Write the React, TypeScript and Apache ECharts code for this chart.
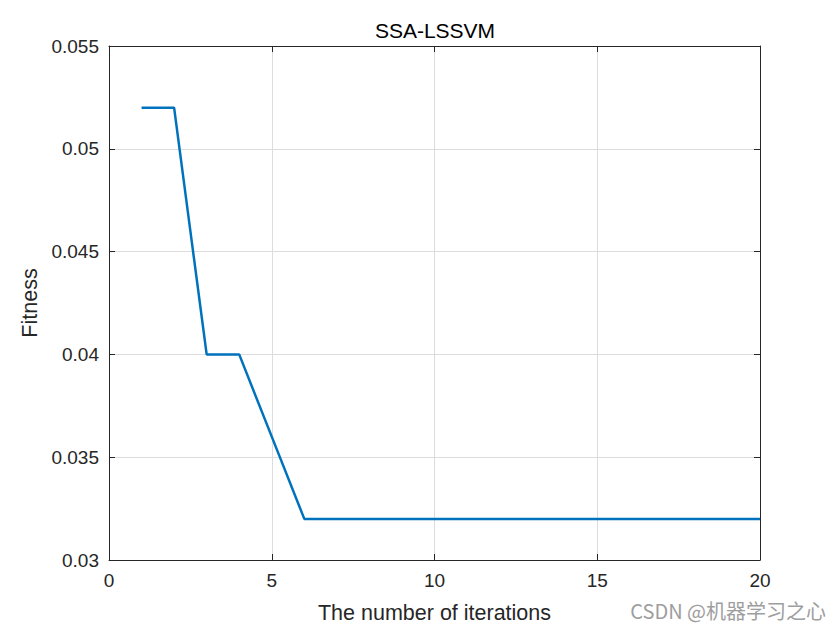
import React, { useEffect, useRef } from "react";
import * as echarts from "echarts";

const iterations = [1, 2, 3, 4, 5, 6, 7, 8, 9, 10, 11, 12, 13, 14, 15, 16, 17, 18, 19, 20];
const fitness = [0.052, 0.052, 0.04, 0.04, 0.036, 0.032, 0.032, 0.032, 0.032, 0.032, 0.032, 0.032, 0.032, 0.032, 0.032, 0.032, 0.032, 0.032, 0.032, 0.032];
const titleText = "SSA-LSSVM";
const xName = "The number of iterations";
const yName = "Fitness";
const watermark = "CSDN @机器学习之心";

const FONT = "Liberation Sans, Arial, sans-serif";
const TXT = "#262626";

export default function App() {
  const ref = useRef<HTMLDivElement>(null);
  useEffect(() => {
    if (!ref.current) return;
    const chart = echarts.init(ref.current, null, { renderer: "svg" });
    const axisLine = { show: true, onZero: false, lineStyle: { color: "#262626", width: 1 } };
    chart.setOption({
      animation: false,
      backgroundColor: "#ffffff",
      title: {
        text: titleText,
        left: 430,
        top: 15,
        textAlign: "center",
        textStyle: { fontFamily: FONT, fontSize: 21, fontWeight: "normal", color: "#000" },
      },
      grid: { left: 109, right: 80, top: 46, bottom: 70, containLabel: false },
      xAxis: [
        {
          type: "value",
          min: 0,
          max: 20,
          interval: 5,
          position: "bottom",
          name: xName,
          nameLocation: "middle",
          nameGap: 42,
          nameTextStyle: { fontFamily: FONT, fontSize: 21.5, color: TXT },
          axisLine,
          axisTick: { show: true, inside: true, length: 6, lineStyle: { color: "#262626" } },
          axisLabel: { fontFamily: FONT, fontSize: 19, color: TXT, margin: 11 },
          splitLine: { show: true, lineStyle: { color: "#dcdcdc", width: 1 } },
        },
        {
          type: "value",
          min: 0,
          max: 20,
          interval: 5,
          position: "top",
          axisLine,
          axisTick: { show: true, inside: true, length: 6, lineStyle: { color: "#262626" } },
          axisLabel: { show: false },
          splitLine: { show: false },
        },
      ],
      yAxis: [
        {
          type: "value",
          min: 0.03,
          max: 0.055,
          interval: 0.005,
          position: "left",
          name: yName,
          nameLocation: "middle",
          nameGap: 63,
          nameRotate: 90,
          nameTextStyle: { fontFamily: FONT, fontSize: 21.5, color: TXT },
          axisLine,
          axisTick: { show: true, inside: true, length: 6, lineStyle: { color: "#262626" } },
          axisLabel: { fontFamily: FONT, fontSize: 19, color: TXT, margin: 10 },
          splitLine: { show: true, lineStyle: { color: "#dcdcdc", width: 1 } },
        },
        {
          type: "value",
          min: 0.03,
          max: 0.055,
          interval: 0.005,
          position: "right",
          axisLine,
          axisTick: { show: true, inside: true, length: 6, lineStyle: { color: "#262626" } },
          axisLabel: { show: false },
          splitLine: { show: false },
        },
      ],
      series: [
        {
          type: "line",
          data: iterations.map((x, i) => [x, fitness[i]]),
          showSymbol: false,
          symbol: "none",
          lineStyle: { color: "#0072BD", width: 2.5 },
          clip: true,
        },
      ],
      graphic: [
        {
          type: "text",
          right: 14,
          top: 600,
          style: { text: watermark, fontFamily: "Noto Sans CJK SC, sans-serif", fontSize: 20, fill: "#9e9e9e" },
        },
      ],
    });
    return () => chart.dispose();
  }, []);
  return <div ref={ref} style={{ width: 840, height: 630, position: "absolute", left: 0, top: 0 }} />;
}
